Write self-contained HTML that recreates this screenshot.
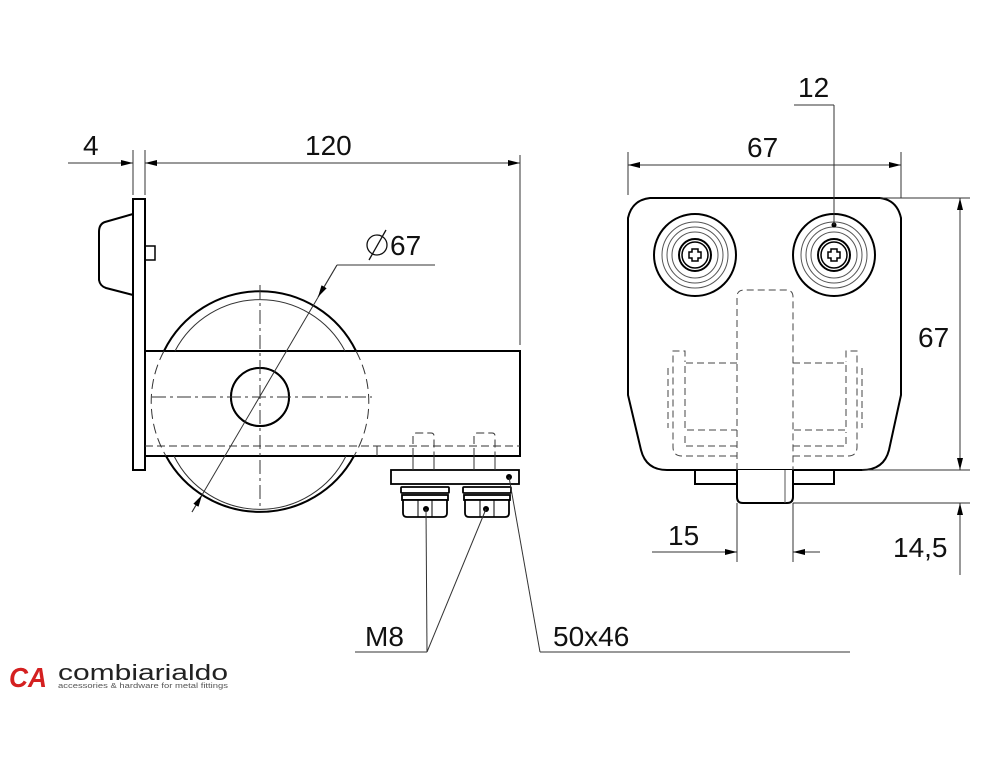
<!DOCTYPE html>
<html><head><meta charset="utf-8"><style>
html,body{margin:0;padding:0;background:#fff;}
svg{display:block;}
text{font-family:"Liberation Sans",sans-serif;fill:#111;}
</style></head><body>
<svg width="1000" height="781" viewBox="0 0 1000 781" xmlns="http://www.w3.org/2000/svg">
<defs>
<marker id="a" viewBox="0 0 12 6" refX="12" refY="3" markerWidth="12" markerHeight="6" orient="auto-start-reverse" markerUnits="userSpaceOnUse"><path d="M0,0 L12,3 L0,6 z" fill="#000"/></marker>
</defs>
<g fill="none" stroke="#000" stroke-width="2">
<rect x="133" y="199" width="12" height="271" fill="#fff"/>
<path d="M133,214 L105,222 Q99,224 99,232 L99,280 Q100,286 106,288 L133,295"/>
<rect x="145" y="246" width="10" height="14" stroke-width="1.5"/>
<path d="M164,351 A107,107 0 0 1 356,351" />
<path d="M166,456 A107,107 0 0 0 354,456" />
<rect x="145" y="351" width="375" height="105"/>
<circle cx="260" cy="397" r="29"/>
<rect x="391" y="470" width="128" height="14" stroke-width="1.8"/>
</g>
<g fill="none" stroke="#333" stroke-width="1">
<path d="M175,351 A96,96 0 0 1 345,351"/>
<path d="M174,456 A96,96 0 0 0 346,456"/>
</g>
<g fill="none" stroke="#333" stroke-width="1" stroke-dasharray="8,4">
<line x1="145" y1="446" x2="520" y2="446"/>
<path d="M413,456 L413,436 Q413,433 416,433 L431,433 Q434,433 434,436 L434,456"/>
<path d="M474,456 L474,436 Q474,433 477,433 L492,433 Q495,433 495,436 L495,456"/>
</g>
<g fill="none" stroke="#333" stroke-width="1" stroke-dasharray="10,5">
<path d="M164,351 A107,107 0 0 0 166,456"/>
<path d="M356,351 A107,107 0 0 1 354,456"/>
</g>
<g fill="none" stroke="#000" stroke-width="2">
<circle cx="260" cy="397" r="29" fill="#fff"/>
</g>
<g stroke="#333" stroke-width="1" fill="none">
<line x1="260" y1="285" x2="260" y2="510" stroke-dasharray="14,4,3,4"/>
<line x1="152" y1="397" x2="372" y2="397" stroke-dasharray="14,4,3,4"/>
<line x1="413" y1="456" x2="413" y2="470"/><line x1="434" y1="456" x2="434" y2="470"/>
<line x1="474" y1="456" x2="474" y2="470"/><line x1="495" y1="456" x2="495" y2="470"/>
<line x1="377" y1="446" x2="377" y2="456"/>
</g>
<g stroke="#000" stroke-width="1.8" fill="#fff">
<rect x="401" y="487" width="48" height="6" rx="1"/>
<rect x="402" y="495" width="46" height="5"/>
<path d="M403,500 L447,500 L447,513 Q447,517 443,517 L407,517 Q403,517 403,513 Z"/>
<rect x="463" y="487" width="48" height="6" rx="1"/>
<rect x="464" y="495" width="46" height="5"/>
<path d="M465,500 L509,500 L509,513 Q509,517 505,517 L469,517 Q465,517 465,513 Z"/>
</g>
<g stroke="#000" stroke-width="1">
<line x1="418" y1="500" x2="418" y2="517"/><line x1="432" y1="500" x2="432" y2="517"/>
<line x1="480" y1="500" x2="480" y2="517"/><line x1="494" y1="500" x2="494" y2="517"/>
</g>
<circle cx="426" cy="509" r="3" fill="#000"/><circle cx="486" cy="509" r="3" fill="#000"/><circle cx="509" cy="477" r="3" fill="#000"/>
<g stroke="#333" stroke-width="1" fill="none">
<line x1="133" y1="150" x2="133" y2="195"/><line x1="145" y1="150" x2="145" y2="195"/>
<line x1="520" y1="155" x2="520" y2="345"/>
<line x1="68" y1="163" x2="133" y2="163" marker-end="url(#a)"/>
<line x1="145" y1="163" x2="520" y2="163" marker-start="url(#a)" marker-end="url(#a)"/>
<line x1="337" y1="265" x2="435" y2="265"/>
<line x1="337" y1="265" x2="192" y2="512"/>
<line x1="337" y1="265" x2="318" y2="297" marker-end="url(#a)"/>
<line x1="192" y1="512" x2="202" y2="495" marker-end="url(#a)"/>
<line x1="355" y1="652" x2="427" y2="652"/>
<line x1="427" y1="652" x2="426" y2="509"/>
<line x1="427" y1="652" x2="486" y2="509"/>
<line x1="540" y1="652" x2="850" y2="652"/>
<line x1="540" y1="652" x2="509" y2="477"/>
</g>
<text x="83" y="155" font-size="28">4</text>
<text x="305" y="155" font-size="28">120</text>
<g stroke="#111" stroke-width="1.3" fill="none"><circle cx="377" cy="245" r="10"/><line x1="369" y1="260" x2="386" y2="230"/></g>
<text x="390" y="255" font-size="28">67</text>
<text x="365" y="646" font-size="28">M8</text>
<text x="553" y="646" font-size="28">50x46</text>

<g fill="none" stroke="#000" stroke-width="2">
<path d="M650,198 L880,198 Q897,200 901,218 L901,395 L889,450 Q884,470 862,470 L667,470 Q646,470 641,450 L628,395 L628,218 Q632,200 650,198 Z"/>
<rect x="695" y="470" width="139" height="14"/>
<path d="M737,470 L737,497 Q737,503 743,503 L787,503 Q793,503 793,497 L793,470" fill="#fff"/>
<circle cx="695" cy="255" r="41"/><circle cx="834" cy="255" r="41"/>
<circle cx="695" cy="255" r="16"/><circle cx="834" cy="255" r="16"/>
<circle cx="695" cy="255" r="13" stroke-width="1.5"/><circle cx="834" cy="255" r="13" stroke-width="1.5"/>
</g>
<g fill="none" stroke="#555" stroke-width="1">
<circle cx="695" cy="255" r="33"/><circle cx="695" cy="255" r="28"/><circle cx="695" cy="255" r="23"/>
<circle cx="834" cy="255" r="33"/><circle cx="834" cy="255" r="28"/><circle cx="834" cy="255" r="23"/>
<line x1="785" y1="470" x2="785" y2="503"/>
</g>
<g fill="none" stroke="#000" stroke-width="1.5">
<path d="M692,249 h6 v3 h3 v6 h-3 v3 h-6 v-3 h-3 v-6 h3 z"/>
<path d="M831,249 h6 v3 h3 v6 h-3 v3 h-6 v-3 h-3 v-6 h3 z"/>
</g>
<g fill="none" stroke="#444" stroke-width="1" stroke-dasharray="7,4">
<path d="M737,470 L737,297 Q737,290 744,290 L786,290 Q793,290 793,297 L793,470"/>
<path d="M737,363 L685,363 L685,430 L737,430"/>
<path d="M793,363 L846,363 L846,430 L793,430"/>
<path d="M737,446 L685,446 L685,432"/>
<path d="M793,446 L846,446 L846,432"/>
<path d="M737,456 L682,456 Q673,456 673,447 L673,351 L685,351 L685,362"/>
<path d="M793,456 L848,456 Q857,456 857,447 L857,351 L846,351 L846,362"/>
<path d="M668,368 L668,428"/><path d="M862,368 L862,428"/>
</g>
<circle cx="834" cy="225" r="2.5" fill="#000"/>
<g stroke="#333" stroke-width="1" fill="none">
<line x1="628" y1="152" x2="628" y2="195"/><line x1="901" y1="152" x2="901" y2="198"/>
<line x1="628" y1="165" x2="901" y2="165" marker-start="url(#a)" marker-end="url(#a)"/>
<line x1="794" y1="105" x2="834" y2="105"/><line x1="834" y1="105" x2="834" y2="225"/>
<line x1="880" y1="198" x2="970" y2="198"/>
<line x1="862" y1="470" x2="970" y2="470"/>
<line x1="793" y1="503" x2="970" y2="503"/>
<line x1="960" y1="198" x2="960" y2="470" marker-start="url(#a)" marker-end="url(#a)"/>
<line x1="960" y1="575" x2="960" y2="503" marker-end="url(#a)"/>
<line x1="737" y1="503" x2="737" y2="562"/><line x1="793" y1="503" x2="793" y2="562"/>
<line x1="652" y1="552" x2="737" y2="552" marker-end="url(#a)"/>
<line x1="820" y1="552" x2="793" y2="552" marker-end="url(#a)"/>
</g>
<text x="798" y="97" font-size="28">12</text>
<text x="747" y="157" font-size="28">67</text>
<text x="918" y="347" font-size="28">67</text>
<text x="668" y="545" font-size="28">15</text>
<text x="893" y="557" font-size="28">14,5</text>

<text x="9" y="687" font-size="28" font-weight="bold" style="fill:#d42020" font-style="italic" textLength="38" lengthAdjust="spacingAndGlyphs">CA</text>
<text x="58" y="680" font-size="22" textLength="170" lengthAdjust="spacingAndGlyphs" style="fill:#222">combiarialdo</text>
<text x="58" y="688" font-size="7" textLength="170" lengthAdjust="spacingAndGlyphs" style="fill:#555">accessories &amp; hardware for metal fittings</text>
</svg>
</body></html>
